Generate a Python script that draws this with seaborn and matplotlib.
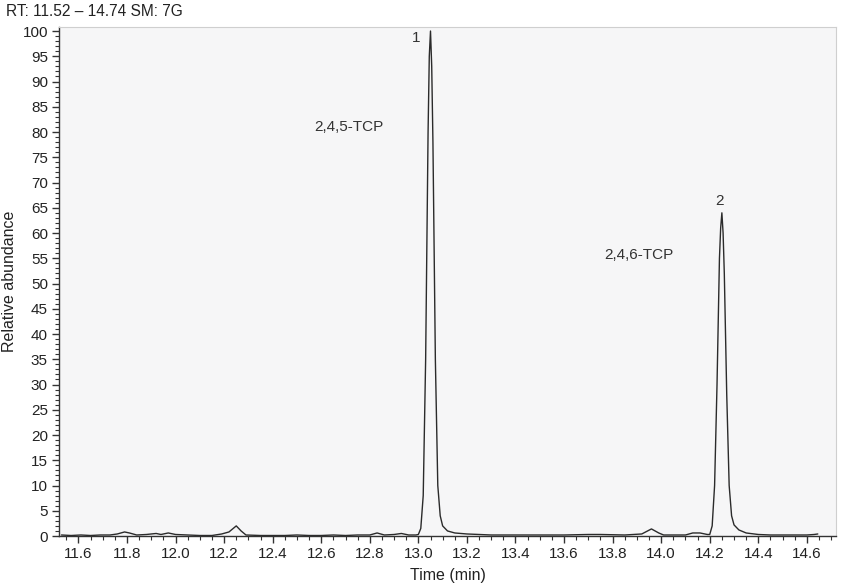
import matplotlib
matplotlib.use("Agg")
import matplotlib.pyplot as plt
from matplotlib.ticker import MultipleLocator
import seaborn as sns
import pandas as pd

# Chromatogram trace (time in min, relative abundance)
time_min = [11.53, 11.57, 11.61, 11.65, 11.69, 11.73, 11.76, 11.79, 11.81, 11.84, 11.88,
            11.92, 11.94, 11.97, 12.00, 12.05, 12.10, 12.15, 12.19, 12.22, 12.25,
            12.27, 12.29, 12.35, 12.40, 12.45, 12.50, 12.55, 12.60, 12.65, 12.70,
            12.75, 12.80, 12.83, 12.86, 12.90, 12.93, 12.96, 12.99,
            13.00, 13.01, 13.02, 13.03, 13.04, 13.045, 13.05, 13.055, 13.06, 13.07,
            13.08, 13.09, 13.10, 13.12, 13.15, 13.20, 13.25, 13.30, 13.40, 13.50,
            13.60, 13.70, 13.75, 13.85, 13.92, 13.96, 13.99, 14.01, 14.05, 14.10,
            14.13, 14.16, 14.19, 14.20, 14.21, 14.22, 14.23, 14.24, 14.245, 14.25,
            14.255, 14.26, 14.27, 14.28, 14.29, 14.30, 14.32, 14.35, 14.40, 14.45,
            14.50, 14.55, 14.60, 14.63, 14.645]
abundance = [0.2, 0.1, 0.2, 0.1, 0.2, 0.2, 0.4, 0.8, 0.6, 0.2, 0.3,
             0.5, 0.3, 0.6, 0.3, 0.2, 0.1, 0.1, 0.4, 0.8, 2.0,
             1.0, 0.2, 0.1, 0.1, 0.1, 0.2, 0.1, 0.1, 0.2, 0.1,
             0.2, 0.2, 0.6, 0.2, 0.3, 0.5, 0.2, 0.2,
             0.3, 1.5, 8.0, 35.0, 80.0, 95.0, 100.0, 93.0, 78.0, 35.0,
             10.0, 4.0, 2.0, 1.0, 0.6, 0.4, 0.3, 0.2, 0.2, 0.2,
             0.2, 0.3, 0.3, 0.2, 0.4, 1.4, 0.6, 0.2, 0.2, 0.2,
             0.6, 0.6, 0.3, 0.3, 2.0, 10.0, 30.0, 55.0, 61.0, 64.0,
             60.0, 52.0, 28.0, 10.0, 4.0, 2.2, 1.2, 0.6, 0.3, 0.2,
             0.2, 0.2, 0.2, 0.3, 0.4]

peak_numbers = ["1", "2"]
peak_num_x = [12.99, 14.242]
peak_num_y = [98.6, 66.3]
compound_names = ["2,4,5-TCP", "2,4,6-TCP"]
compound_x = [12.714, 13.909]
compound_y = [81.0, 55.6]

title_text = "RT: 11.52 – 14.74 SM: 7G"
x_label = "Time (min)"
y_label = "Relative abundance"
x_ticks = [11.6, 11.8, 12.0, 12.2, 12.4, 12.6, 12.8, 13.0, 13.2, 13.4, 13.6,
           13.8, 14.0, 14.2, 14.4, 14.6]

sns.set_style("ticks")
plt.rcParams["font.family"] = ["Liberation Sans", "DejaVu Sans"]

df = pd.DataFrame({"time": time_min, "abundance": abundance})

fig = plt.figure(figsize=(8.56, 5.85), dpi=100)
ax = fig.add_axes([59 / 856, 49 / 585, (836 - 59) / 856, (536 - 27) / 585])
sns.lineplot(data=df, x="time", y="abundance", ax=ax, color="#2b2b2b",
             linewidth=1.0, estimator=None, sort=False)

ax.set_facecolor("#f6f6f7")
ax.set_xlim(11.52, 14.72)
ax.set_ylim(0, 100.8)

ax.set_xticks(x_ticks)
ax.set_xticklabels([f"{v:.1f}" for v in x_ticks])
ax.xaxis.set_minor_locator(MultipleLocator(0.05))
ax.yaxis.set_major_locator(MultipleLocator(5))
ax.yaxis.set_minor_locator(MultipleLocator(1))

ax.tick_params(axis="both", which="major", direction="out", length=5, width=1,
               color="#333333", labelsize=11, labelcolor="#222222", pad=3)
ax.tick_params(axis="both", which="minor", direction="out", length=3, width=0.8,
               color="#333333")

for s in ["left", "bottom"]:
    ax.spines[s].set_color("#333333")
    ax.spines[s].set_linewidth(1.0)
for s in ["top", "right"]:
    ax.spines[s].set_color("#cfcfcf")
    ax.spines[s].set_linewidth(0.8)

ax.set_xlabel(x_label, fontsize=11.5, color="#222222", labelpad=5)
ax.set_ylabel(y_label, fontsize=11.5, color="#222222", labelpad=4)

for t, x, y in zip(peak_numbers, peak_num_x, peak_num_y):
    ax.text(x, y, t, ha="center", va="center", fontsize=11, color="#333333")
for t, x, y in zip(compound_names, compound_x, compound_y):
    ax.text(x, y, t, ha="center", va="center", fontsize=11, color="#333333")

fig.text(6 / 856, 1 - 12 / 585, title_text, ha="left", va="center",
         fontsize=11.2, color="#222222")

fig.savefig("out.png", dpi=100)
